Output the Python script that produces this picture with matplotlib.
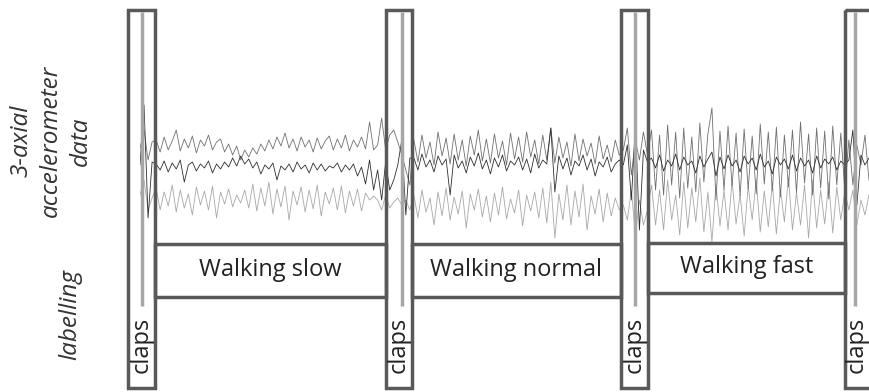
import numpy as np
import matplotlib
matplotlib.use('Agg')
import matplotlib.pyplot as plt
from matplotlib.patches import Rectangle

# accelerometer samples (offset from the centre line), one list per part of the recording
clap1_a = [22, 40, 10, 28]
clap1_b = [5, 65, -48, 8]
clap1_c = [-25, -10, -40, -28]

slow_a = [30, 18, 33, 20, 29, 40, 19, 31, 22, 34, 17, 30, 24, 35, 20, 28, 31, 18, 26, 15,
          24, 10, 20, 13, 22, 16, 26, 19, 30, 21, 33, 24, 37, 22, 31, 19, 33, 23, 30, 18,
          32, 21, 29, 34, 20, 31, 22, 35, 19, 30, 23, 33, 21, 48, 20]
slow_b = [6, 0, 9, -2, 7, 1, 10, -12, 5, 8, -1, 6, 2, 9, -3, 6, 1, 8, 3, 12,
          4, 14, 6, 11, 2, 8, -4, 5, 1, 7, -10, 4, 0, 6, -2, 8, 1, 5, -3, 7,
          0, 6, -1, 4, 2, 7, -2, 5, 0, 6, -6, 3, -14, 10, -20]
slow_c = [-18, -40, -22, -36, -15, -42, -20, -38, -24, -45, -17, -35, -21, -40, -16, -48, -22, -34, -19, -37,
          -25, -33, -20, -38, -14, -41, -18, -36, -12, -44, -19, -37, -16, -50, -21, -35, -17, -42, -20, -39,
          -15, -46, -22, -34, -18, -40, -16, -43, -21, -36, -19, -41, -23, -30, -26]

trans_a = [25, 52, 20, 35, 40, 28, 15, 0, -15]
trans_b = [0, -30, 8, -20, -10, 5, 30, -45, 12]
trans_c = [-30, -40, -25, -38, -32, -28, -35, -30, -40]

normal_a = [30, 8, 35, 12, 28, 5, 38, 14, 32, 6, 36, 10, 30, 4, 34, 15, 40, 9, 31, 7,
            36, 12, 29, 5, 37, 11, 33, 8, 38, 13, 30, 6, 35, 10, 42, 7, 33, 12, 28, 4,
            36, 9, 31, 14, 27, 6, 34, 11, 25, 8, 30, 15]
normal_b = [12, 0, 16, 3, 10, -2, 14, 5, 11, -25, 15, 2, 9, -3, 13, 4, 17, 1, 10, -4,
            12, 3, 15, -1, 9, 5, 13, 0, 11, -3, 16, 2, 10, 6, 42, -22, 14, 1, 12, -5,
            9, 4, 15, 0, 11, -6, 8, 3, 13, -2, 6, 10]
normal_c = [-25, -48, -20, -42, -28, -55, -22, -46, -18, -50, -27, -44, -21, -58, -24, -40, -19, -47, -26, -52,
            -23, -45, -17, -49, -29, -43, -20, -56, -25, -41, -22, -48, -18, -53, -12, -68, -24, -50, -15, -55,
            -21, -47, -14, -60, -26, -44, -19, -52, -23, -46, -28, -40]

clap3_a = [20, 42, -5, 30, 10, 38, 15]
clap3_b = [5, 25, -30, 45, -60, 20, 8]
clap3_c = [-35, -50, -20, -65, -30, -55, -40]

fast_a = [40, -20, 35, -25, 45, -15, 38, -28, 42, -18, 33, -22, 47, -12, 36, 62, -30, 39, -20, 44,
          -16, 37, -26, 41, -19, 34, -24, 46, -14, 38, -21, 43, -27, 35, -17, 40, -23, 48, -13, 36,
          -25, 42, -18, 39, -29, 44, -15, 37, -20]
fast_b = [12, 2, 15, -1, 10, 4, 16, 0, 13, 5, 9, -3, 14, 3, 11, 18, -6, 13, 1, 15,
          4, 10, -2, 14, 6, 12, 0, 16, 3, 9, -4, 13, 5, 11, 1, 15, -1, 12, 4, 10,
          -3, 14, 2, 11, 6, 13, 0, 9, 5]
fast_c = [-15, -55, -20, -60, -10, -50, -25, -65, -12, -58, -18, -52, -8, -62, -22, -72, -14, -56, -20, -60,
          -11, -54, -24, -66, -16, -50, -9, -62, -21, -57, -13, -64, -19, -52, -7, -60, -23, -55, -15, -68,
          -10, -58, -20, -54, -12, -63, -17, -50, -22]

tail_a = [30, -15, 25, 5, 35, -10]
tail_b = [10, 40, -35, 15, 5, 12]
tail_c = [-40, -20, -55, -30, -45, -25]

activities = ['Walking slow', 'Walking normal', 'Walking fast']
clap_label = 'claps'

EDGE = '#595959'
FONT = ['Open Sans', 'DejaVu Sans']


def draw_signal(fig):
    # signal area, 1 unit = 1 pixel
    ax = fig.add_axes([140 / 869, 1 - 260 / 392, 729 / 869, 180 / 392])
    acc_a = clap1_a + slow_a + trans_a + normal_a + clap3_a + fast_a + tail_a
    acc_b = clap1_b + slow_b + trans_b + normal_b + clap3_b + fast_b + tail_b
    acc_c = clap1_c + slow_c + trans_c + normal_c + clap3_c + fast_c + tail_c
    t = np.arange(len(acc_a))
    ax.plot(t, acc_c, color='#a8a8a8', lw=0.6)
    ax.plot(t, acc_a, color='#707070', lw=0.6)
    ax.plot(t, acc_b, color='#2e2e2e', lw=0.6)
    ax.set_xlim(0, len(acc_a) - 1)
    ax.set_ylim(-90, 90)
    ax.axis('off')


def draw_frame(fig):
    # boxes and labels on a pixel grid over the whole figure
    ax = fig.add_axes([0, 0, 1, 1])
    ax.set_xlim(0, 869)
    ax.set_ylim(392, 0)
    ax.patch.set_alpha(0)
    ax.axis('off')

    # labelling boxes
    for (x0, x1, y0, y1), name in zip([(155, 386, 244, 297), (412, 621, 244, 297), (648, 845, 243, 293)],
                                      activities):
        ax.add_patch(Rectangle((x0, y0), x1 - x0, y1 - y0, fill=False, ec=EDGE, lw=2.5))
        ax.text((x0 + x1) / 2, (y0 + y1) / 2 - 1, name, ha='center', va='center',
                fontsize=17, color='#222222', family=FONT)

    # clap boxes
    for x0, x1, xl in [(128, 155, 142), (386, 412, 402), (621, 648, 635), (845, 874, 855)]:
        ax.add_patch(Rectangle((x0, 10), x1 - x0, 378, fill=False, ec=EDGE, lw=2.5, clip_on=False))
        ax.plot([xl, xl], [12, 306], color='#a6a6a6', lw=2.5, solid_capstyle='butt')
        ax.text(min((x0 + x1) / 2, 857), 345, clap_label, rotation=90, ha='center', va='center',
                fontsize=17, color='#222222', family=FONT)

    ax.text(51, 141, '3-axial\naccelerometer\ndata', rotation=90, ha='center', va='center',
            fontsize=17.5, style='italic', color='#333333', family=FONT, linespacing=1.3)
    ax.text(70, 315, 'labelling', rotation=90, ha='center', va='center',
            fontsize=17.5, style='italic', color='#333333', family=FONT)


def main():
    fig = plt.figure(figsize=(8.69, 3.92), dpi=100)
    draw_signal(fig)
    draw_frame(fig)
    fig.savefig('out.png', dpi=100, facecolor='white')


if __name__ == '__main__':
    main()
